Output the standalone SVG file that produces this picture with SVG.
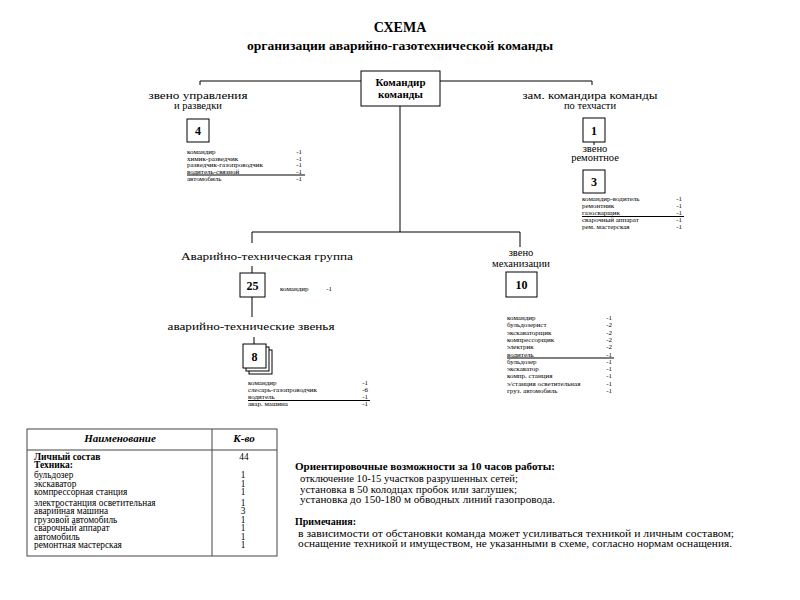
<svg xmlns="http://www.w3.org/2000/svg" width="800" height="600" viewBox="0 0 800 600">
<style>
text{font-family:"Liberation Serif","DejaVu Serif",serif;fill:#000}
.ttl{font-size:14px;font-weight:bold;text-anchor:middle}
.sub{font-size:12px;font-weight:bold;text-anchor:middle}
.lbl{font-size:10.5px;text-anchor:middle}
.cmd{font-size:11px;font-weight:bold;text-anchor:middle}
.num{font-size:12px;font-weight:bold;text-anchor:middle}
.lst{font-size:7px}
.val{font-size:7px;text-anchor:end}
.box{fill:#fff;stroke:#000;stroke-width:1}
.ln{stroke:#000;stroke-width:1;fill:none}
.tb{stroke:#444;stroke-width:1;fill:none}
.th{font-size:11px;font-weight:bold;font-style:italic;text-anchor:middle}
.tr{font-size:9.3px}
.trb{font-size:9.5px;font-weight:bold}
.tv{font-size:9.3px;text-anchor:middle}
.nh{font-size:10px;font-weight:bold}
.nt{font-size:9.5px}
</style>
<rect width="800" height="600" fill="#fff"/>
<g id="title">
<text class="ttl" x="400" y="32">СХЕМА</text>
<text class="sub" x="400" y="50" textLength="306" lengthAdjust="spacingAndGlyphs">организации аварийно-газотехнической команды</text>
</g>
<g id="connectors">
<polyline class="ln" points="200,85 200,81 592,81 592,85"/>
<line class="ln" x1="400" y1="106" x2="400" y2="232"/>
<polyline class="ln" points="252,243 252,232 520,232 520,247"/>
<line class="ln" x1="594" y1="142" x2="594" y2="145"/>
<line class="ln" x1="252" y1="266" x2="252" y2="273"/>
<line class="ln" x1="252" y1="297" x2="252" y2="317"/>
<line class="ln" x1="254" y1="337" x2="254" y2="344"/>
</g>
<g id="node-commander">
<rect class="box" x="361" y="71" width="79" height="35"/>
<text class="cmd" x="400.5" y="86">Командир</text>
<text class="cmd" x="400.5" y="98">команды</text>
</g>
<g id="node-razvedka">
<text class="lbl" x="198" y="99" textLength="99" lengthAdjust="spacingAndGlyphs">звено управления</text>
<text class="lbl" x="198" y="109">и разведки</text>
<rect class="box" x="187" y="119" width="22" height="23"/>
<text class="num" x="198" y="135">4</text>
<text class="lst" x="187" y="154">командир</text><text class="val" x="302" y="154">-1</text>
<text class="lst" x="187" y="160.5">химик-разведчик</text><text class="val" x="302" y="160.5">-1</text>
<text class="lst" x="187" y="167">разведчик-газопроводчик</text><text class="val" x="302" y="167">-1</text>
<text class="lst" x="187" y="173.5">водитель-связной</text><text class="val" x="302" y="173.5">-1</text>
<line class="ln" x1="187" y1="175" x2="305" y2="175"/>
<text class="lst" x="187" y="180.5">автомобиль</text><text class="val" x="302" y="180.5">-1</text>
</g>
<g id="node-zam">
<text class="lbl" x="590" y="99" textLength="135" lengthAdjust="spacingAndGlyphs">зам. командира команды</text>
<text class="lbl" x="590" y="109">по техчасти</text>
<rect class="box" x="583" y="118" width="22" height="24"/>
<text class="num" x="594" y="135">1</text>
</g>
<g id="node-remont">
<text class="lbl" x="595" y="152">звено</text>
<text class="lbl" x="595" y="161">ремонтное</text>
<rect class="box" x="583" y="170" width="22" height="23"/>
<text class="num" x="594" y="186">3</text>
<text class="lst" x="582" y="201">командир-водитель</text><text class="val" x="682" y="201">-1</text>
<text class="lst" x="582" y="208">ремонтник</text><text class="val" x="682" y="208">-1</text>
<text class="lst" x="582" y="215">газосварщик</text><text class="val" x="682" y="215">-1</text>
<line class="ln" x1="582" y1="216.5" x2="684" y2="216.5"/>
<text class="lst" x="582" y="222">сварочный аппарат</text><text class="val" x="682" y="222">-1</text>
<text class="lst" x="582" y="229">рем. мастерская</text><text class="val" x="682" y="229">-1</text>
</g>
<g id="node-group">
<text class="lbl" x="267" y="260" font-size="12" textLength="172" lengthAdjust="spacingAndGlyphs">Аварийно-техническая группа</text>
<rect class="box" x="240" y="273" width="25" height="24"/>
<text class="num" x="252.5" y="290">25</text>
<text class="lst" x="280" y="291">командир</text><text class="val" x="332" y="291">-1</text>
</g>
<g id="node-zvenya">
<text class="lbl" x="251" y="330" font-size="11" textLength="167" lengthAdjust="spacingAndGlyphs">аварийно-технические звенья</text>
<rect class="box" x="249" y="350" width="23" height="24"/>
<rect class="box" x="246" y="347" width="23" height="24"/>
<rect class="box" x="243" y="344" width="23" height="24"/>
<text class="num" x="254.5" y="361">8</text>
<text class="lst" x="248" y="385">командир</text><text class="val" x="368" y="385">-1</text>
<text class="lst" x="248" y="392">слесарь-газопроводчик</text><text class="val" x="368" y="392">-6</text>
<text class="lst" x="248" y="399">водитель</text><text class="val" x="368" y="399">-1</text>
<line class="ln" x1="248" y1="400.5" x2="370" y2="400.5"/>
<text class="lst" x="248" y="406">авар. машина</text><text class="val" x="368" y="406">-1</text>
</g>
<g id="node-mech">
<text class="lbl" x="521" y="256">звено</text>
<text class="lbl" x="521" y="267">механизации</text>
<rect class="box" x="506" y="272" width="31" height="25"/>
<text class="num" x="521.5" y="289">10</text>
<text class="lst" x="507" y="320">командир</text><text class="val" x="612" y="320">-1</text>
<text class="lst" x="507" y="327.3">бульдозерист</text><text class="val" x="612" y="327.3">-2</text>
<text class="lst" x="507" y="334.6">экскаваторщик</text><text class="val" x="612" y="334.6">-2</text>
<text class="lst" x="507" y="341.9">компрессорщик</text><text class="val" x="612" y="341.9">-2</text>
<text class="lst" x="507" y="349.2">электрик</text><text class="val" x="612" y="349.2">-2</text>
<text class="lst" x="507" y="356.5">водитель</text><text class="val" x="612" y="356.5">-1</text>
<line class="ln" x1="507" y1="358" x2="614" y2="358"/>
<text class="lst" x="507" y="363.8">бульдозер</text><text class="val" x="612" y="363.8">-1</text>
<text class="lst" x="507" y="371.1">экскаватор</text><text class="val" x="612" y="371.1">-1</text>
<text class="lst" x="507" y="378.4">компр. станция</text><text class="val" x="612" y="378.4">-1</text>
<text class="lst" x="507" y="385.7">э/станция осветительная</text><text class="val" x="612" y="385.7">-1</text>
<text class="lst" x="507" y="393">груз. автомобиль</text><text class="val" x="612" y="393">-1</text>
</g>
<g id="table">
<rect class="tb" x="27" y="429" width="250" height="127"/>
<line class="tb" x1="27" y1="450" x2="277" y2="450"/>
<line class="tb" x1="212" y1="429" x2="212" y2="556"/>
<text class="th" x="120" y="442">Наименование</text>
<text class="th" x="244" y="442">К-во</text>
<text class="trb" x="34" y="459.5">Личный состав</text><text class="tv" x="244" y="460">44</text>
<text class="trb" x="34" y="468">Техника:</text>
<text class="tr" x="34" y="478">бульдозер</text><text class="tv" x="243" y="478">1</text>
<text class="tr" x="34" y="486.7">экскаватор</text><text class="tv" x="243" y="486.7">1</text>
<text class="tr" x="34" y="495.4">компрессорная станция</text><text class="tv" x="243" y="495.4">1</text>
<text class="tr" x="34" y="506">электростанция осветительная</text><text class="tv" x="243" y="506">1</text>
<text class="tr" x="34" y="514.3">аварийная машина</text><text class="tv" x="243" y="514.3">3</text>
<text class="tr" x="34" y="523">грузовой автомобиль</text><text class="tv" x="243" y="523">1</text>
<text class="tr" x="34" y="531.3">сварочный аппарат</text><text class="tv" x="243" y="531.3">1</text>
<text class="tr" x="34" y="540">автомобиль</text><text class="tv" x="243" y="540">1</text>
<text class="tr" x="34" y="548.3">ремонтная мастерская</text><text class="tv" x="243" y="548.3">1</text>
</g>
<g id="notes">
<text class="nh" x="295" y="470" textLength="260" lengthAdjust="spacingAndGlyphs">Ориентировочные возможности за 10 часов работы:</text>
<text class="nt" x="300" y="481.5" textLength="218" lengthAdjust="spacingAndGlyphs">отключение 10-15 участков разрушенных сетей;</text>
<text class="nt" x="300" y="492.5" textLength="217" lengthAdjust="spacingAndGlyphs">установка в 50 колодцах пробок или заглушек;</text>
<text class="nt" x="300" y="503.3" textLength="255" lengthAdjust="spacingAndGlyphs">установка до 150-180 м обводных линий газопровода.</text>
<text class="nh" x="295" y="525">Примечания:</text>
<text class="nt" x="298" y="536.7" textLength="436" lengthAdjust="spacingAndGlyphs">в зависимости от обстановки команда может усиливаться техникой и личным составом;</text>
<text class="nt" x="298" y="546.7" textLength="434" lengthAdjust="spacingAndGlyphs">оснащение техникой и имуществом, не указанными в схеме, согласно нормам оснащения.</text>
</g>
</svg>
